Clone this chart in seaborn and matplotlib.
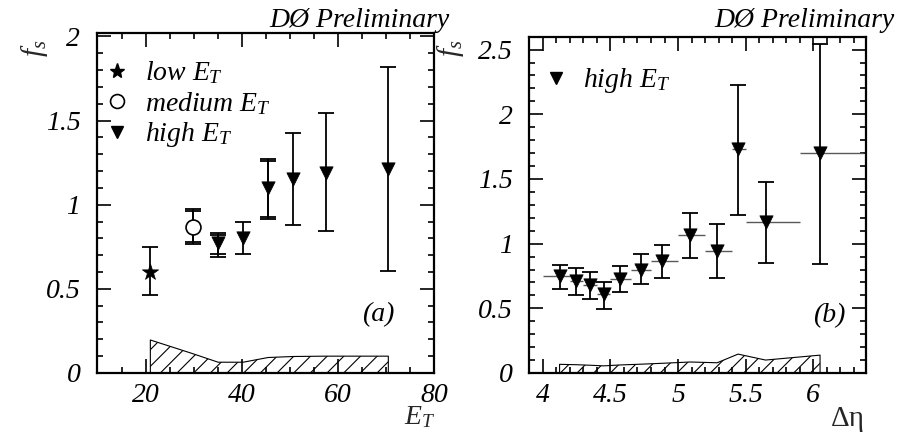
import matplotlib
matplotlib.use("Agg")
import matplotlib.pyplot as plt
import seaborn as sns
from matplotlib.lines import Line2D
from matplotlib.ticker import MultipleLocator, FuncFormatter, FixedLocator

# ---------------- panel (a): f_s versus jet E_T ----------------
et_low = [21.0]
fs_low = [0.60]
fs_low_lo = [0.464]
fs_low_hi = [0.746]

et_med = [29.8]
fs_med = [0.865]
fs_med_lo = [0.768]
fs_med_hi = [0.974]
fs_med_stat_lo = [0.780]
fs_med_stat_hi = [0.960]

et_high = [35.1, 40.3, 45.5, 50.7, 57.6, 70.5]
fs_high = [0.77, 0.80, 1.10, 1.155, 1.19, 1.21]
fs_high_lo = [0.692, 0.706, 0.915, 0.877, 0.841, 0.603]
fs_high_hi = [0.830, 0.900, 1.274, 1.427, 1.542, 1.820]
et_high_stat = [35.1, 45.5]
fs_high_stat = [0.77, 1.10]
fs_high_stat_lo = [0.706, 0.927]
fs_high_stat_hi = [0.817, 1.262]

et_sys = [21.0, 29.8, 35.1, 40.3, 45.5, 50.7, 57.6, 70.5]
sys_a = [0.196, 0.115, 0.064, 0.064, 0.092, 0.098, 0.100, 0.100]

# ---------------- panel (b): f_s versus delta eta (high E_T) ----------------
deta = [4.124, 4.247, 4.35, 4.45, 4.568, 4.724, 4.884, 5.09, 5.289, 5.444, 5.647, 6.05]
fs_deta = [0.746, 0.715, 0.682, 0.608, 0.728, 0.80, 0.866, 1.067, 0.946, 1.728, 1.169, 1.698]
fs_deta_lo = [0.651, 0.60, 0.569, 0.495, 0.626, 0.69, 0.736, 0.89, 0.733, 1.22, 0.85, 0.843]
fs_deta_hi = [0.838, 0.81, 0.779, 0.70, 0.825, 0.92, 0.99, 1.233, 1.15, 2.223, 1.477, 2.54]
deta_bin_lo = [4.0, 4.2, 4.3, 4.4, 4.5, 4.65, 4.8, 5.0, 5.2, 5.4, 5.5, 5.9]
deta_bin_hi = [4.2, 4.3, 4.4, 4.5, 4.65, 4.8, 5.0, 5.2, 5.4, 5.5, 5.9, 6.37]
sys_b = [0.067, 0.064, 0.060, 0.055, 0.062, 0.068, 0.075, 0.085, 0.079, 0.146, 0.100, 0.138]

sns.set_theme(style="ticks")
plt.rcParams.update({
    "font.family": ["Liberation Serif", "DejaVu Serif"],
    "font.style": "italic",
    "mathtext.fontset": "custom",
    "mathtext.rm": "Liberation Serif",
    "mathtext.it": "Liberation Serif:italic",
    "mathtext.bf": "Liberation Serif:bold",
    "hatch.linewidth": 0.8,
    "axes.linewidth": 1.6,
    "axes.edgecolor": "black",
    "text.color": "black",
    "xtick.color": "black",
    "ytick.color": "black",
})

FS = 20      # tick labels, legends, panel tags
FS_AX = 21   # axis titles


def asym(center, lo, hi):
    return [[c - l for c, l in zip(center, lo)], [h - c for c, h in zip(center, hi)]]


def style_axis(ax):
    ax.tick_params(which="both", direction="in", top=True, right=True,
                   labelsize=FS, width=1.2)
    ax.tick_params(which="major", length=10)
    ax.tick_params(which="minor", length=4.5)
    ax.tick_params(axis="y", pad=12)
    ax.tick_params(axis="x", pad=7)
    fmt = FuncFormatter(lambda v, p: f"{v:g}")
    ax.xaxis.set_major_formatter(fmt)
    ax.yaxis.set_major_formatter(fmt)
    for s in ax.spines.values():
        s.set_visible(True)
        s.set_linewidth(1.6)


fig = plt.figure(figsize=(8.98, 4.32), dpi=100)
ax1 = fig.add_axes([0.108, 0.1366, 0.3753, 0.787])
ax2 = fig.add_axes([0.5894, 0.1366, 0.375, 0.7785])

eb = dict(fmt="none", ecolor="black", elinewidth=1.3, capsize=5.5, capthick=1.3, zorder=2)

# ---- panel (a)
ax1.fill_between(et_sys, 0, sys_a, facecolor="none", edgecolor="black",
                 hatch="//", linewidth=0.8, zorder=1)
ax1.errorbar(et_low, fs_low, yerr=asym(fs_low, fs_low_lo, fs_low_hi), **eb)
ax1.errorbar(et_med, fs_med, yerr=asym(fs_med, fs_med_lo, fs_med_hi), **eb)
ax1.errorbar(et_med, fs_med, yerr=asym(fs_med, fs_med_stat_lo, fs_med_stat_hi), **eb)
ax1.errorbar(et_high, fs_high, yerr=asym(fs_high, fs_high_lo, fs_high_hi), **eb)
ax1.errorbar(et_high_stat, fs_high_stat,
             yerr=asym(fs_high_stat, fs_high_stat_lo, fs_high_stat_hi), **eb)

sns.scatterplot(x=et_low, y=fs_low, marker="*", s=150, color="black",
                edgecolor="black", linewidth=0.5, ax=ax1, zorder=3, legend=False)
sns.scatterplot(x=et_med, y=fs_med, marker="o", s=115, color="white",
                edgecolor="black", linewidth=1.2, ax=ax1, zorder=3, legend=False)
sns.scatterplot(x=et_high, y=fs_high, marker="v", s=92, color="black",
                edgecolor="black", linewidth=0.5, ax=ax1, zorder=3, legend=False)

ax1.set_xlim(9.9, 80)
ax1.set_ylim(0, 2.02)
ax1.xaxis.set_major_locator(FixedLocator([20, 40, 60, 80]))
ax1.xaxis.set_minor_locator(MultipleLocator(5))
ax1.yaxis.set_major_locator(MultipleLocator(0.5))
ax1.yaxis.set_minor_locator(MultipleLocator(0.1))
style_axis(ax1)

handles_a = [
    Line2D([], [], ls="none", marker="*", ms=11, color="black"),
    Line2D([], [], ls="none", marker="o", ms=10, mfc="white", mec="black", mew=1.2),
    Line2D([], [], ls="none", marker="v", ms=9, color="black"),
]
ax1.legend(handles_a, ["low $E_T$", "medium $E_T$", "high $E_T$"],
           loc="upper left", bbox_to_anchor=(0.0, 0.955), frameon=False,
           fontsize=FS, handlelength=0.62, handletextpad=0.71,
           labelspacing=0.13, borderaxespad=0.2, borderpad=0.2)

ax1.text(0.834, 0.171, "(a)", transform=ax1.transAxes, ha="center", va="center",
         fontsize=FS)
ax1.set_xlabel("$E_T$", fontsize=20, ha="center", va="center")
ax1.xaxis.set_label_coords(0.958, -0.131)
ax1.set_ylabel("$f_s$", fontsize=FS_AX, ha="center", va="center")
ax1.yaxis.set_label_coords(-0.184, 0.955)

# ---- panel (b)
ax2.fill_between(deta, 0, sys_b, facecolor="none", edgecolor="black",
                 hatch="//", linewidth=0.8, zorder=1)
ax2.errorbar(deta, fs_deta, xerr=asym(deta, deta_bin_lo, deta_bin_hi),
             fmt="none", ecolor="0.35", elinewidth=1.0, capsize=0, zorder=2)
ax2.errorbar(deta, fs_deta, yerr=asym(fs_deta, fs_deta_lo, fs_deta_hi), **eb)
sns.scatterplot(x=deta, y=fs_deta, marker="v", s=92, color="black",
                edgecolor="black", linewidth=0.5, ax=ax2, zorder=3, legend=False)

ax2.set_xlim(3.9, 6.39)
ax2.set_ylim(0, 2.6)
ax2.xaxis.set_major_locator(MultipleLocator(0.5))
ax2.xaxis.set_minor_locator(MultipleLocator(0.1))
ax2.yaxis.set_major_locator(MultipleLocator(0.5))
ax2.yaxis.set_minor_locator(MultipleLocator(0.1))
style_axis(ax2)

handles_b = [Line2D([], [], ls="none", marker="v", ms=9, color="black")]
ax2.legend(handles_b, ["high $E_T$"], loc="upper left", bbox_to_anchor=(0.0, 0.945),
           frameon=False, fontsize=FS, handlelength=1.12, handletextpad=0.42,
           borderaxespad=0.2, borderpad=0.2)

ax2.text(0.89, 0.172, "(b)", transform=ax2.transAxes, ha="center", va="center",
         fontsize=FS)
ax2.set_xlabel("Δη", fontsize=FS_AX, style="normal", ha="center", va="center")
ax2.xaxis.set_label_coords(0.9466, -0.137)
ax2.set_ylabel("$f_s$", fontsize=FS_AX, ha="center", va="center")
ax2.yaxis.set_label_coords(-0.2325, 0.965)

# ---- experiment tags
fig.text(450 / 898, 1 - 27 / 432, "DØ Preliminary", ha="right", va="baseline",
         fontsize=20)
fig.text(895 / 898, 1 - 27 / 432, "DØ Preliminary", ha="right", va="baseline",
         fontsize=20)

fig.savefig("out.png", dpi=100)
